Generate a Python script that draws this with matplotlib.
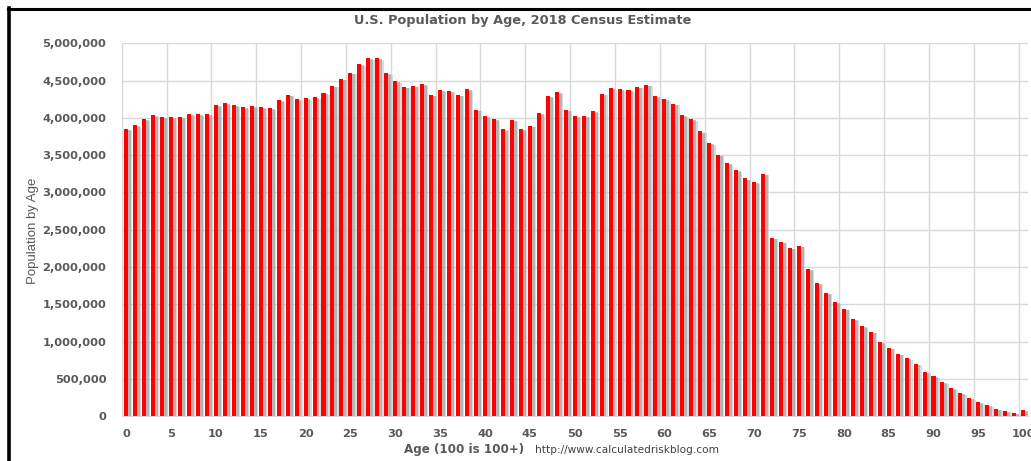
import numpy as np
import matplotlib.pyplot as plt
from matplotlib.lines import Line2D
from matplotlib.ticker import FuncFormatter

### Data (population by single year of age, 100 = 100+)
ages = list(range(101))
population = [
    3853000, 3902000, 3987000, 4036000, 4013000, 4009000, 4013000, 4054000, 4054000, 4054000,
    4174000, 4196000, 4170000, 4147000, 4161000, 4143000, 4129000, 4237000, 4313000, 4254000,
    4268000, 4281000, 4330000, 4433000, 4527000, 4607000, 4723000, 4804000, 4799000, 4603000,
    4496000, 4420000, 4433000, 4455000, 4313000, 4375000, 4357000, 4313000, 4388000, 4112000,
    4022000, 3982000, 3853000, 3973000, 3853000, 3897000, 4067000, 4295000, 4344000, 4112000,
    4022000, 4022000, 4089000, 4326000, 4402000, 4388000, 4375000, 4420000, 4446000, 4295000,
    4254000, 4192000, 4036000, 3989000, 3819000, 3665000, 3508000, 3392000, 3298000, 3189000,
    3137000, 3254000, 2395000, 2342000, 2257000, 2288000, 1975000, 1783000, 1658000, 1533000,
    1444000, 1301000, 1211000, 1135000, 997000, 921000, 840000, 782000, 706000, 599000,
    536000, 460000, 384000, 308000, 241000, 192000, 152000, 103000, 72000, 49000,
    89000,
]
x_ticks = list(range(0, 101, 5))
y_ticks = list(range(0, 5000001, 500000))

title = "U.S. Population by Age, 2018 Census Estimate"
x_label = "Age (100 is 100+)"
y_label = "Population by Age"
source = "http://www.calculatedriskblog.com"

text_grey = "#595959"
grid_grey = "#d9d9d9"

fig = plt.figure(figsize=(10.31, 4.61), dpi=100)
ax = fig.add_axes([0.1180, 0.0970, 0.8788, 0.8091])

x = np.array(ages)
y = np.array(population)

# blurred grey drop shadow to the right of each bar
ax.bar(x + 0.45, y - 25000, width=0.5, color="#c4c4c4", alpha=0.6, zorder=2, linewidth=0)
ax.bar(x + 0.32, y - 15000, width=0.45, color="#9a9a9a", alpha=0.6, zorder=2, linewidth=0)
ax.bar(x, y, width=0.45, color="#ff0000", zorder=3, linewidth=0)

ax.set_xlim(-0.5, 100.5)
ax.set_ylim(0, 5000000)

ax.set_xticks(x_ticks)
ax.set_xticks(np.arange(-0.5, 100, 5), minor=True)
ax.set_yticks(y_ticks)
ax.yaxis.set_major_formatter(FuncFormatter(lambda v, p: f"{int(v):,}"))

ax.grid(axis="y", which="major", color=grid_grey, lw=1.0, zorder=0)
ax.grid(axis="x", which="minor", color=grid_grey, lw=1.0, zorder=0)
ax.set_axisbelow(True)

ax.tick_params(axis="both", which="both", length=0)
ax.tick_params(axis="x", pad=9, labelsize=8.2, labelcolor=text_grey)
ax.tick_params(axis="y", pad=11, labelsize=8.2, labelcolor=text_grey)
for lbl in ax.get_xticklabels() + ax.get_yticklabels():
    lbl.set_fontweight("bold")

for side in ["top", "right"]:
    ax.spines[side].set_visible(False)
ax.spines["left"].set_color(grid_grey)
ax.spines["bottom"].set_color(grid_grey)

fig.text(0.507, 0.955, title, ha="center", va="center", fontsize=9.3,
         fontweight="bold", color=text_grey)
fig.text(0.032, 0.50, y_label, rotation=90, ha="center", va="center",
         fontsize=9.5, color=text_grey, family="Liberation Sans")
fig.text(0.4505, 0.024, x_label, ha="center", va="center", fontsize=8.6,
         fontweight="bold", color=text_grey)
fig.text(0.519, 0.024, source, ha="left", va="center", fontsize=7.6,
         color="#404040")

### black frame of the original screenshot (top and left)
fig.add_artist(Line2D([7.5 / 1031, 1.0], [1 - 9 / 461, 1 - 9 / 461],
                      transform=fig.transFigure, color="black", lw=2.2))
fig.add_artist(Line2D([8.7 / 1031, 8.7 / 1031], [0.0, 1 - 8 / 461],
                      transform=fig.transFigure, color="black", lw=2.6))

fig.savefig("out.png", dpi=100)
